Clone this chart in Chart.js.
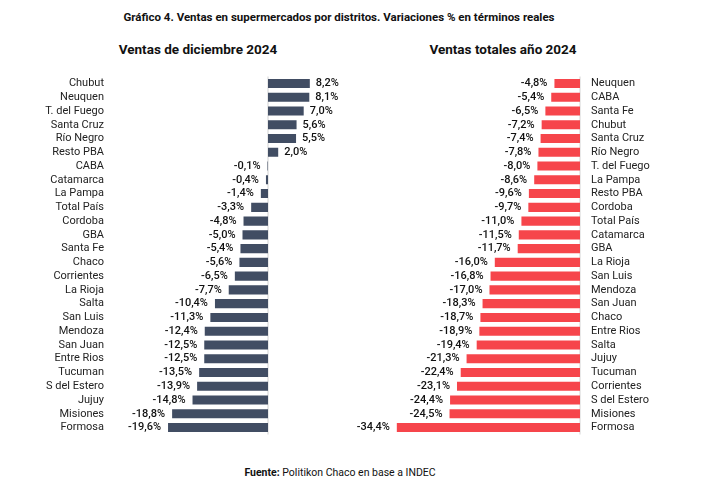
<!DOCTYPE html>
<html>
<head>
<meta charset="utf-8">
<script src="https://cdn.jsdelivr.net/npm/chart.js@4.4.1/dist/chart.umd.min.js"></script>
<style>
  body { margin: 0; background: #fff; font-family: Roboto, "Liberation Sans", sans-serif; color: #111; }
  #wrap { position: relative; width: 702px; height: 488px; overflow: hidden; }
  .t { position: absolute; white-space: nowrap; }
  #titulo { top: 10px; left: 0; width: 678px; text-align: center; font-size: 11.5px; font-weight: bold; }
  #sub1 { top: 41px; left: 48px; width: 300px; text-align: center; font-size: 13.5px; font-weight: bold; }
  #sub2 { top: 41px; left: 353px; width: 300px; text-align: center; font-size: 13.5px; font-weight: bold; }
  #fuente { top: 466px; left: 0; width: 680px; text-align: center; font-size: 10.5px; }
  .caja { position: absolute; top: 67px; width: 351px; height: 377px; }
</style>
</head>
<body>
<div id="wrap">
  <div class="t" id="titulo">Gráfico 4. Ventas en supermercados por distritos. Variaciones % en términos reales</div>
  <div class="t" id="sub1">Ventas de diciembre 2024</div>
  <div class="t" id="sub2">Ventas totales año 2024</div>
  <div class="caja" style="left:0"><canvas id="lienzo1"></canvas></div>
  <div class="caja" style="left:351px"><canvas id="lienzo2"></canvas></div>
  <div class="t" id="fuente"><b>Fuente:</b> Politikon Chaco en base a INDEC</div>
</div>
<script>
const distritosDic = ["Chubut","Neuquen","T. del Fuego","Santa Cruz","Río Negro","Resto PBA","CABA","Catamarca","La Pampa","Total País","Cordoba","GBA","Santa Fe","Chaco","Corrientes","La Rioja","Salta","San Luis","Mendoza","San Juan","Entre Rios","Tucuman","S del Estero","Jujuy","Misiones","Formosa"]
const valoresDic = [8.2,8.1,7.0,5.6,5.5,2.0,-0.1,-0.4,-1.4,-3.3,-4.8,-5.0,-5.4,-5.6,-6.5,-7.7,-10.4,-11.3,-12.4,-12.5,-12.5,-13.5,-13.9,-14.8,-18.8,-19.6]

const distritosAnio = ["Neuquen","CABA","Santa Fe","Chubut","Santa Cruz","Río Negro","T. del Fuego","La Pampa","Resto PBA","Cordoba","Total País","Catamarca","GBA","La Rioja","San Luis","Mendoza","San Juan","Chaco","Entre Rios","Salta","Jujuy","Tucuman","Corrientes","S del Estero","Misiones","Formosa"]
const valoresAnio = [-4.8,-5.4,-6.5,-7.2,-7.4,-7.8,-8.0,-8.6,-9.6,-9.7,-11.0,-11.5,-11.7,-16.0,-16.8,-17.0,-18.3,-18.7,-18.9,-19.4,-21.3,-22.4,-23.1,-24.4,-24.5,-34.4]

const fuente = "Roboto, 'Liberation Sans', sans-serif"

// linea del cero y etiquetas de valor al final de cada barra
const etiquetas = {
    id: "etiquetas",
    beforeDatasetsDraw(chart) {
        const ctx = chart.ctx
        const x0 = chart.scales.x.getPixelForValue(0)
        ctx.save()
        ctx.strokeStyle = "#e2e2e2"
        ctx.lineWidth = 1.5
        ctx.beginPath()
        ctx.moveTo(x0, chart.chartArea.top)
        ctx.lineTo(x0, chart.chartArea.bottom)
        ctx.stroke()
        ctx.restore()
    },
    afterDatasetsDraw(chart) {
        const ctx = chart.ctx
        const meta = chart.getDatasetMeta(0)
        const datos = chart.data.datasets[0].data
        ctx.save()
        ctx.font = "500 11px " + fuente
        ctx.fillStyle = "#111"
        ctx.textBaseline = "middle"
        meta.data.forEach((bar, i) => {
            const v = datos[i]
            const txt = v.toFixed(1).replace(".", ",") + "%"
            if (v >= 0) {
                ctx.textAlign = "left"
                ctx.fillText(txt, bar.x + 6, bar.y)
            } else {
                ctx.textAlign = "right"
                ctx.fillText(txt, bar.x - 7, bar.y)
            }
        })
        ctx.restore()
    }
}

function opciones(min, max, lado, ancho, padding) {
    return {
        indexAxis: "y",
        responsive: true,
        maintainAspectRatio: false,
        animation: false,
        layout: { padding: padding },
        plugins: { legend: { display: false }, tooltip: { enabled: false } },
        scales: {
            x: { display: false, min: min, max: max },
            y: {
                position: lado,
                grid: { display: false },
                border: { display: false },
                ticks: { color: "#222", font: { family: fuente, size: 11 }, padding: 3, autoSkip: false },
                afterFit: s => { s.width = ancho }
            }
        }
    }
}

new Chart(document.getElementById("lienzo1"), {
    type: "bar",
    data: {
        labels: distritosDic,
        datasets: [{
            data: valoresDic,
            backgroundColor: "#414d63",
            barPercentage: 0.66,
            categoryPercentage: 1
        }]
    },
    options: opciones(-30, 10, "left", 115, { right: 32, top: 0, bottom: 0 }),
    plugins: [etiquetas]
})

new Chart(document.getElementById("lienzo2"), {
    type: "bar",
    data: {
        labels: distritosAnio,
        datasets: [{
            data: valoresAnio,
            backgroundColor: "#f6454b",
            barPercentage: 0.66,
            categoryPercentage: 1
        }]
    },
    options: opciones(-40, 0, "right", 122, { left: 16, top: 0, bottom: 0 }),
    plugins: [etiquetas]
})
</script>
</body>
</html>
